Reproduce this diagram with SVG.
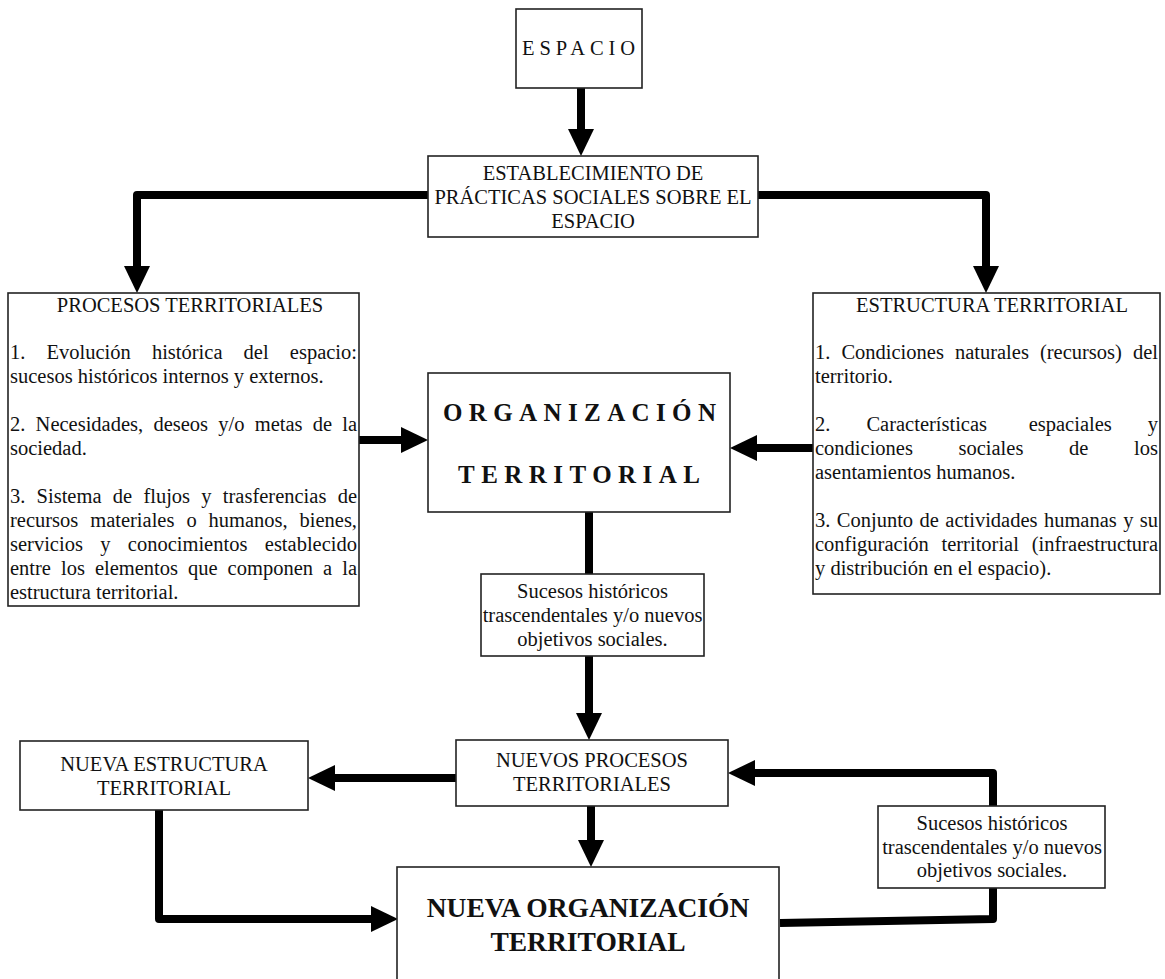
<svg xmlns="http://www.w3.org/2000/svg" width="1165" height="979" viewBox="0 0 1165 979">
<style>
.box{fill:#fff;stroke:#222;stroke-width:1.6}
.t{font-family:"Liberation Serif","Times New Roman",serif;font-size:20.5px;fill:#111}
.c{text-anchor:middle}
.b{font-weight:bold}
.big{font-size:25px}
.huge{font-size:27.5px}
.conn path{fill:none;stroke:#000;stroke-width:8;stroke-linejoin:round}
</style>
<defs>
<marker id="ah" markerUnits="userSpaceOnUse" markerWidth="30" markerHeight="28" viewBox="0 -14 30 28" refX="0" refY="0" orient="auto" overflow="visible">
<path d="M0,-13 L27,0 L0,13 z" fill="#000"/>
</marker>
</defs>
<rect width="1165" height="979" fill="#fff"/>
<g id="connectors" class="conn">
<path d="M581,88 V129" marker-end="url(#ah)"/>
<path d="M428,195 H137 V266" marker-end="url(#ah)"/>
<path d="M758,195 H986 V266" marker-end="url(#ah)"/>
<path d="M359,440 H401" marker-end="url(#ah)"/>
<path d="M813,448 H757" marker-end="url(#ah)"/>
<path d="M589,512 V574"/>
<path d="M589,656 V713" marker-end="url(#ah)"/>
<path d="M456,778 H335" marker-end="url(#ah)"/>
<path d="M159,810 V919 H371" marker-end="url(#ah)"/>
<path d="M591,806 V840" marker-end="url(#ah)"/>
<path d="M993,806 V773 H755" marker-end="url(#ah)"/>
<path d="M780,923 L993,919 V888"/>
</g>
<g id="espacio">
<rect class="box" x="516" y="9" width="126" height="79"/>
<text class="t" x="522" y="55" textLength="113" lengthAdjust="spacing">ESPACIO</text>
</g>
<g id="establecimiento">
<rect class="box" x="428" y="156" width="330" height="81"/>
<text class="t c" x="593" y="180">ESTABLECIMIENTO DE</text>
<text class="t c" x="593" y="204">PRÁCTICAS SOCIALES SOBRE EL</text>
<text class="t c" x="593" y="228">ESPACIO</text>
</g>
<g id="procesos">
<rect class="box" x="8" y="293" width="351" height="313"/>
<text class="t c" x="190" y="312">PROCESOS TERRITORIALES</text>
<text class="t" y="359"><tspan x="10">1.</tspan><tspan x="46.5">Evolución</tspan><tspan x="151.9">histórica</tspan><tspan x="243.6">del</tspan><tspan x="357" text-anchor="end">espacio:</tspan></text>
<text class="t" x="10" y="383">sucesos históricos internos y externos.</text>
<text class="t" y="431"><tspan x="10">2.</tspan><tspan x="35.6">Necesidades,</tspan><tspan x="153.4">deseos</tspan><tspan x="218.3">y/o</tspan><tspan x="254.7">metas</tspan><tspan x="312.7">de</tspan><tspan x="357" text-anchor="end">la</tspan></text>
<text class="t" x="10" y="455">sociedad.</text>
<text class="t" y="503"><tspan x="10">3.</tspan><tspan x="36.6">Sistema</tspan><tspan x="112.8">de</tspan><tspan x="143.4">flujos</tspan><tspan x="201.3">y</tspan><tspan x="222.8">trasferencias</tspan><tspan x="357" text-anchor="end">de</tspan></text>
<text class="t" y="527"><tspan x="10">recursos</tspan><tspan x="90.2">materiales</tspan><tspan x="186.4">o</tspan><tspan x="208.5">humanos,</tspan><tspan x="357" text-anchor="end">bienes,</tspan></text>
<text class="t" y="551"><tspan x="10">servicios</tspan><tspan x="100.2">y</tspan><tspan x="127.8">conocimientos</tspan><tspan x="357" text-anchor="end">establecido</tspan></text>
<text class="t" y="575"><tspan x="10">entre</tspan><tspan x="61">los</tspan><tspan x="94.9">elementos</tspan><tspan x="188">que</tspan><tspan x="227.6">componen</tspan><tspan x="323">a</tspan><tspan x="357" text-anchor="end">la</tspan></text>
<text class="t" x="10" y="599">estructura territorial.</text>
</g>
<g id="estructura">
<rect class="box" x="813" y="293" width="347" height="301"/>
<text class="t c" x="992" y="312">ESTRUCTURA TERRITORIAL</text>
<text class="t" y="359"><tspan x="815">1.</tspan><tspan x="841.4">Condiciones</tspan><tspan x="954.9">naturales</tspan><tspan x="1039.9">(recursos)</tspan><tspan x="1158" text-anchor="end">del</tspan></text>
<text class="t" x="815" y="383">territorio.</text>
<text class="t" y="431"><tspan x="815">2.</tspan><tspan x="866.4">Características</tspan><tspan x="1028.7">espaciales</tspan><tspan x="1158" text-anchor="end">y</tspan></text>
<text class="t" y="455"><tspan x="815">condiciones</tspan><tspan x="958.5">sociales</tspan><tspan x="1069">de</tspan><tspan x="1158" text-anchor="end">los</tspan></text>
<text class="t" x="815" y="479">asentamientos humanos.</text>
<text class="t" y="527"><tspan x="815">3.</tspan><tspan x="836.8">Conjunto</tspan><tspan x="919.5">de</tspan><tspan x="945.3">actividades</tspan><tspan x="1043.9">humanas</tspan><tspan x="1123.2">y</tspan><tspan x="1158" text-anchor="end">su</tspan></text>
<text class="t" y="551"><tspan x="815">configuración</tspan><tspan x="941.5">territorial</tspan><tspan x="1158" text-anchor="end">(infraestructura</tspan></text>
<text class="t" x="815" y="575">y distribución en el espacio).</text>
</g>
<g id="organizacion">
<rect class="box" x="428" y="373" width="302" height="139"/>
<text class="t b big" x="443" y="421" textLength="273" lengthAdjust="spacing">ORGANIZACIÓN</text>
<text class="t b big" x="458" y="483" textLength="242" lengthAdjust="spacing">TERRITORIAL</text>
</g>
<g id="sucesos1">
<rect class="box" x="481" y="574" width="223" height="82"/>
<text class="t c" x="592.5" y="598">Sucesos históricos</text>
<text class="t c" x="592.5" y="622">trascendentales y/o nuevos</text>
<text class="t c" x="592.5" y="646">objetivos sociales.</text>
</g>
<g id="nuevos-procesos">
<rect class="box" x="456" y="740" width="272" height="66"/>
<text class="t c" x="592" y="767">NUEVOS PROCESOS</text>
<text class="t c" x="592" y="791">TERRITORIALES</text>
</g>
<g id="nueva-estructura">
<rect class="box" x="20" y="741" width="288" height="69"/>
<text class="t c" x="164" y="771">NUEVA ESTRUCTURA</text>
<text class="t c" x="164" y="795">TERRITORIAL</text>
</g>
<g id="sucesos2">
<rect class="box" x="878" y="806" width="227" height="82"/>
<text class="t c" x="992" y="830">Sucesos históricos</text>
<text class="t c" x="992" y="854">trascendentales y/o nuevos</text>
<text class="t c" x="992" y="877">objetivos sociales.</text>
</g>
<g id="nueva-organizacion">
<rect class="box" x="397" y="867" width="382" height="130"/>
<text class="t b c huge" x="588" y="917">NUEVA ORGANIZACIÓN</text>
<text class="t b c huge" x="588" y="951">TERRITORIAL</text>
</g>
</svg>
